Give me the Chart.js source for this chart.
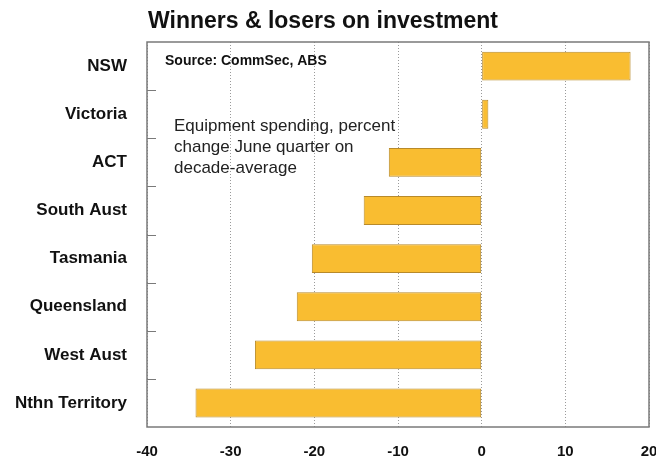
<!DOCTYPE html>
<html>
<head>
<meta charset="utf-8">
<script src="https://cdn.jsdelivr.net/npm/chart.js@4"></script>
<style>
  body { margin: 0; background: #fff; }
  #wrap { width: 656px; height: 456px; }
</style>
</head>
<body>
<div id="wrap"><canvas id="investChart" width="656" height="456"></canvas></div>
<script>
const states = ['NSW', 'Victoria', 'ACT', 'South Aust', 'Tasmania', 'Queensland', 'West Aust', 'Nthn Territory'];
const changes = [17.8, 0.8, -11.1, -14.1, -20.3, -22.1, -27.1, -34.2];
const xTicks = [-40, -30, -20, -10, 0, 10, 20];

const titleText = 'Winners & losers on investment';
const sourceText = 'Source: CommSec, ABS';
const noteLines = ['Equipment spending, percent', 'change June quarter on', 'decade-average'];

const FONT = '"Liberation Sans", Arial, sans-serif';

// box round the plot, inner tick marks on the category axis, and the texts
const decorations = {
    id: 'decorations',
    afterDatasetsDraw(chart) {
        const c = chart.ctx;
        const a = chart.chartArea;
        const y = chart.scales.y;
        c.save();
        c.strokeStyle = '#7a7a7a';
        c.lineWidth = 1.5;
        c.strokeRect(a.left, a.top, a.right - a.left, a.bottom - a.top);

        // ticks between categories, pointing into the plot
        c.lineWidth = 1;
        c.beginPath();
        for (let i = 0; i < states.length - 1; i++) {
            const py = Math.round((y.getPixelForTick(i) + y.getPixelForTick(i + 1)) / 2) + 0.5;
            c.moveTo(a.left, py);
            c.lineTo(a.left + 9, py);
        }
        c.stroke();

        c.fillStyle = '#111';
        c.textBaseline = 'middle';
        c.textAlign = 'left';
        c.font = 'bold 23px ' + FONT;
        c.fillText(titleText, a.left + 1, 22);

        c.font = 'bold 14px ' + FONT;
        c.fillText(sourceText, 165, 61);

        c.fillStyle = '#222';
        c.font = '17px ' + FONT;
        noteLines.forEach((t, i) => c.fillText(t, 174, 126 + i * 21));
        c.restore();
    }
};

const ctx = document.getElementById('investChart').getContext('2d');
const investChart = new Chart(ctx, {
    type: 'bar',
    data: {
        labels: states,
        datasets: [{
            label: 'Equipment spending',
            data: changes,
            backgroundColor: '#F9BD31',
            borderColor: '#B88A2A',
            borderWidth: 1,
            borderSkipped: false,
            categoryPercentage: 1,
            barPercentage: 0.6
        }]
    },
    options: {
        indexAxis: 'y',
        responsive: false,
        animation: false,
        layout: { padding: { top: 42, right: 0, left: 0, bottom: 0 } },
        plugins: {
            legend: { display: false },
            tooltip: { enabled: false }
        },
        scales: {
            x: {
                min: -40,
                max: 20,
                afterBuildTicks: (scale) => { scale.ticks = xTicks.map(v => ({ value: v })); },
                afterFit: (scale) => {
                    scale.height = 29;
                    scale.paddingRight = 7;
                },
                grid: {
                    color: '#9a9a9a',
                    lineWidth: 1,
                    drawTicks: false
                },
                border: { display: false, dash: [1, 2] },
                ticks: {
                    color: '#111',
                    padding: 16,
                    font: { family: FONT, size: 15, weight: 'bold' }
                }
            },
            y: {
                afterFit: (scale) => { scale.width = 147; },
                grid: { display: false },
                border: { display: false },
                ticks: {
                    color: '#111',
                    padding: 12,
                    font: { family: FONT, size: 17, weight: 'bold' }
                }
            }
        }
    },
    plugins: [decorations]
});
</script>
</body>
</html>
